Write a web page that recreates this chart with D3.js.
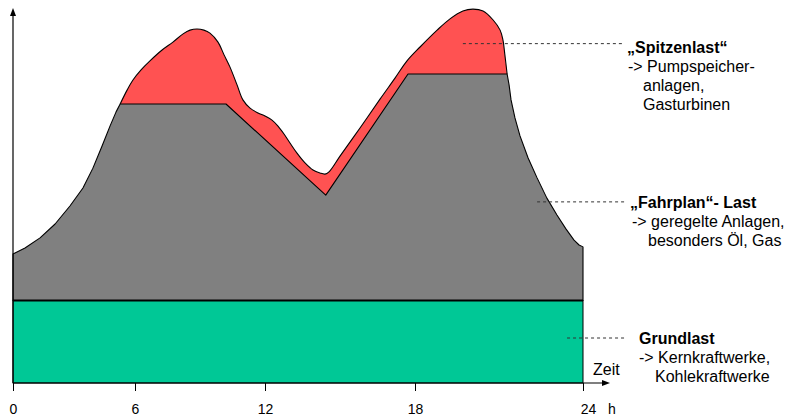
<!DOCTYPE html>
<html><head><meta charset="utf-8">
<script src="https://cdn.jsdelivr.net/npm/d3@7"></script>
<style>
body{margin:0;background:#fff}
svg{display:block;font-family:"Liberation Sans",Arial,Helvetica,sans-serif}
</style>
</head><body>
<svg id="c" width="791" height="419"></svg>
<script>
// ---------- data ----------
const hourTicks = [0, 6, 12, 18, 24];
const hourTickLabels = ["0", "6", "12", "18", "24"];
const timeUnit = "h";
const xAxisTitle = "Zeit";
const baseLoad = 22;           // Grundlast level
const loadMax = 100;

// "Fahrplan"-Last (scheduled load) outline
const scheduleHours = [0, 0.59, 1.33, 2.07, 2.80, 3.44, 3.93, 4.38, 4.77, 5.07, 5.27,
  10.2, 14.43, 17.72, 21.29,
  21.36, 21.43, 21.57, 21.75, 22.04, 22.36, 22.71, 23.07, 23.39, 23.68, 23.86, 24];
const scheduleLoad = [34.4, 36.0, 38.7, 42.4, 47.2, 52.0, 57.3, 63.2, 68.5, 72.3, 74.4,
  74.4, 50.1, 82.4, 82.4,
  79.5, 75.5, 70.7, 65.9, 60.0, 54.7, 49.3, 44.8, 41.1, 38.1, 36.8, 36.3];

// total load incl. "Spitzenlast" (peak load)
const peakHours = [5.27, 5.61, 5.90, 6.28, 6.69, 7.25, 7.75, 8.22, 8.54, 8.86, 9.18, 9.46,
  9.83, 10.11, 10.38, 10.71, 10.98, 11.31, 11.68, 12.0, 12.28, 12.52, 12.76, 13.0, 13.28,
  13.6, 13.92, 14.2, 14.4, 14.56, 15.0, 15.8, 16.6, 17.2, 17.68, 18.18, 18.79, 19.25,
  19.71, 20.07, 20.43, 20.79, 21.04, 21.14, 21.21, 21.29];
const peakLoad = [74.4, 78.1, 80.8, 83.5, 85.9, 88.8, 90.9, 93.1, 94.1, 94.4, 94.1, 93.3,
  90.9, 87.5, 84.3, 79.5, 75.5, 73.3, 72.0, 71.2, 70.1, 68.5, 66.4, 64.0, 61.3,
  58.7, 56.8, 56.0, 55.7, 56.3, 60.5, 68.0, 75.7, 81.3, 85.9, 89.6, 94.1, 97.1,
  99.2, 99.7, 99.2, 96.8, 94.1, 91.5, 87.5, 82.4];

const annotationTitles = ["\u201ESpitzenlast\u201C", "\u201EFahrplan\u201C- Last", "Grundlast"];
const annotationLines = [
  ["-> Pumpspeicher-", "anlagen,", "Gasturbinen"],
  ["-> geregelte Anlagen,", "besonders \u00D6l, Gas"],
  ["-> Kernkraftwerke,", "Kohlekraftwerke"]
];
// where each dashed leader starts (hour, load)
const annotationAnchorHour = [19.71, 22.36, 23.43];
const annotationAnchorLoad = [90.5, 48.3, 12];

// ---------- layout ----------
const W = 791, H = 419;
const colors = {peak: "#FF5252", schedule: "#808080", base: "#00C896"};
const x = d3.scaleLinear().domain(hourTicks).range([13, 135, 265, 415, 583]);
const y = d3.scaleLinear().domain([0, loadMax]).range([383, 8]);

const svg = d3.select("#c");

const sched = scheduleHours.map((h, i) => ({h, v: scheduleLoad[i]}));
const peak = peakHours.map((h, i) => ({h, v: peakLoad[i]}));

// peak area
svg.append("path").datum(peak)
  .attr("d", d3.area().x(d => x(d.h)).y0(y(baseLoad)).y1(d => y(d.v)).curve(d3.curveCatmullRom.alpha(0.5)))
  .attr("fill", colors.peak);
svg.append("path").datum(peak)
  .attr("d", d3.line().x(d => x(d.h)).y(d => y(d.v)).curve(d3.curveCatmullRom.alpha(0.5)))
  .attr("fill", "none").attr("stroke", "#000").attr("stroke-width", 1.1);

// schedule area
svg.append("path").datum(sched)
  .attr("d", d3.area().x(d => x(d.h)).y0(y(baseLoad)).y1(d => y(d.v)))
  .attr("fill", colors.schedule).attr("stroke", "#000").attr("stroke-width", 1.1)
  .attr("stroke-linejoin", "round");

// base load
svg.append("rect")
  .attr("x", x(0)).attr("y", y(baseLoad))
  .attr("width", x(24) - x(0)).attr("height", y(0) - y(baseLoad))
  .attr("fill", colors.base).attr("stroke", "#000").attr("stroke-width", 1);
svg.append("line")
  .attr("x1", x(0)).attr("x2", x(24)).attr("y1", y(baseLoad)).attr("y2", y(baseLoad))
  .attr("stroke", "#000").attr("stroke-width", 2);

// axes
const xAxis = d3.axisBottom(x).tickValues(hourTicks).tickSize(8).tickPadding(13)
  .tickFormat((d, i) => hourTickLabels[i]);
const gx = svg.append("g").attr("transform", `translate(0,${y(0)})`).call(xAxis);
gx.select(".domain").remove();
gx.selectAll(".tick line").attr("stroke", "#000");
gx.selectAll(".tick text").attr("font-size", 14).attr("font-family", "Liberation Sans, Arial, sans-serif").attr("fill", "#000");
gx.selectAll(".tick text").filter((d) => d === 24).attr("dx", 5);
svg.append("text").attr("x", 608).attr("y", 414).attr("font-size", 14).text(timeUnit);

// axis lines with arrows
svg.append("line").attr("x1", x(0)).attr("x2", x(0)).attr("y1", y(0)).attr("y2", 14)
  .attr("stroke", "#000").attr("stroke-width", 1.2);
svg.append("path").attr("d", `M${x(0)},8 L${x(0) - 3},16 L${x(0) + 3},16 Z`).attr("fill", "#000");
svg.append("line").attr("x1", x(0)).attr("x2", 603).attr("y1", y(0)).attr("y2", y(0))
  .attr("stroke", "#000").attr("stroke-width", 1.2);
svg.append("path").attr("d", `M610,${y(0)} L602,${y(0) - 3} L602,${y(0) + 3} Z`).attr("fill", "#000");
svg.append("text").attr("x", 593).attr("y", 375).attr("font-size", 16).text(xAxisTitle);

// annotations
const annoLayout = [
  {lineEnd: 624, tx: 627, ty: 53, lx: [628, 643, 643]},
  {lineEnd: 627, tx: 630, ty: 208, lx: [632, 648]},
  {lineEnd: 627, tx: 639, ty: 344, lx: [639, 655]}
];
annotationTitles.forEach((t, i) => {
  const L = annoLayout[i];
  svg.append("line")
    .attr("x1", x(annotationAnchorHour[i])).attr("x2", L.lineEnd)
    .attr("y1", y(annotationAnchorLoad[i])).attr("y2", y(annotationAnchorLoad[i]))
    .attr("stroke", "#333").attr("stroke-width", 1).attr("stroke-dasharray", "3,3");
  svg.append("text").attr("x", L.tx).attr("y", L.ty)
    .attr("font-size", 16).attr("font-weight", "bold").text(t);
  annotationLines[i].forEach((s, j) => {
    svg.append("text").attr("x", L.lx[j]).attr("y", L.ty + 19 * (j + 1))
      .attr("font-size", 16).text(s);
  });
});
</script>
</body></html>
